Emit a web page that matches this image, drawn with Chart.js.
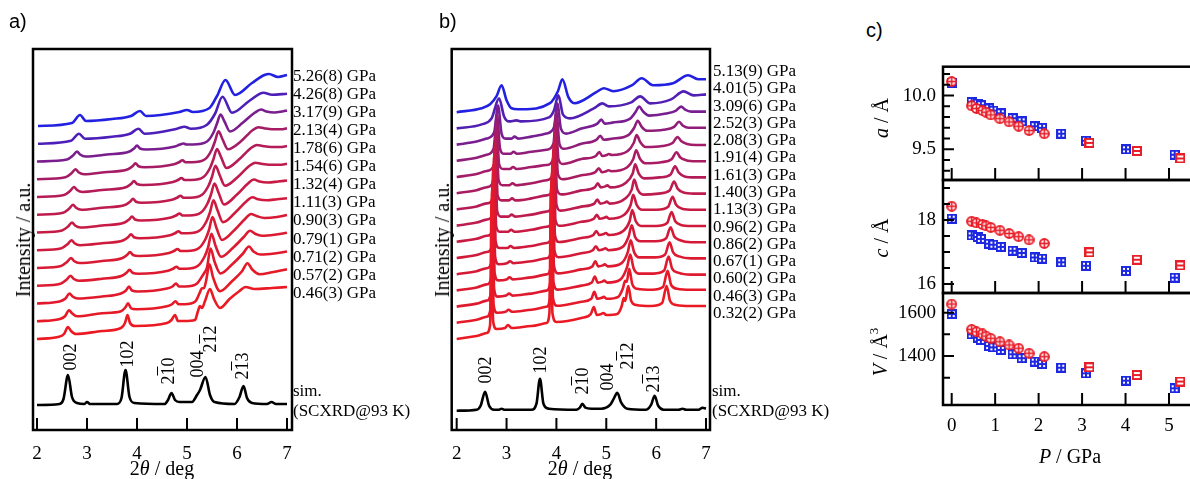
<!DOCTYPE html>
<html>
<head>
<meta charset="utf-8">
<script src="https://cdn.jsdelivr.net/npm/chart.js@4.4.1/dist/chart.umd.min.js"></script>
<style>
  html, body { margin: 0; padding: 0; background: #fff; width: 1190px; height: 479px; overflow: hidden; position: relative; }
  canvas { position: absolute; }
  .t { position: absolute; white-space: nowrap; line-height: 1; font-family: 'Liberation Serif', serif; color: #000; }
  .ob { text-decoration: overline; }
</style>
</head>
<body>
<canvas id="ca" width="400" height="479" style="left:0;top:0"></canvas>
<canvas id="cb" width="330" height="479" style="left:400px;top:0"></canvas>
<canvas id="c1" width="340" height="126" style="left:860px;top:60px"></canvas>
<canvas id="c2" width="340" height="125" style="left:860px;top:174px"></canvas>
<canvas id="c3" width="340" height="168" style="left:860px;top:287px"></canvas>
<script>
// ---- panel a: patterns, bottom (lowest P) to top, [2theta, intensity above own start]
const aPressures = ['0.46(3)', '0.57(2)', '0.71(2)', '0.79(1)', '0.90(3)', '1.11(3)', '1.32(4)',
                    '1.54(6)', '1.78(6)', '2.13(4)', '3.17(9)', '4.26(8)', '5.26(8)'];
const aPatterns = [
  [[2.0,0],[2.42,2],[2.54,5],[2.62,12],[2.68,8],[2.78,5],[3.3,8],[3.68,11],[3.76,16],[3.81,24],[3.86,16],[3.96,13],[4.6,16],[4.69,19],[4.76,24],[4.82,18],[4.95,18],[5.16,19],[5.22,28],[5.26,33],[5.3,31],[5.36,38],[5.46,50],[5.54,40],[5.66,31],[5.85,40],[6.05,48],[6.17,52],[6.35,50],[6.7,51],[7.0,52]],
  [[2.0,0],[2.44,2],[2.56,5],[2.64,11],[2.7,8],[2.8,5],[3.3,8],[3.68,10],[3.77,14],[3.82,18],[3.88,13],[3.98,12],[4.6,15],[4.7,17],[4.77,20],[4.83,17],[4.95,17],[5.17,20],[5.25,28],[5.3,33],[5.34,33],[5.38,40],[5.45,57],[5.52,44],[5.66,30],[5.9,40],[6.1,50],[6.21,58],[6.3,52],[6.45,47],[6.7,49],[7.0,52]],
  [[2.0,0],[2.45,2],[2.57,5],[2.65,10],[2.71,7],[2.82,5],[3.3,7],[3.68,10],[3.78,13],[3.84,17],[3.9,13],[4.02,12],[4.6,15],[4.71,17],[4.78,20],[4.84,17],[4.97,17],[5.2,20],[5.3,27],[5.35,31],[5.4,36],[5.47,55],[5.55,42],[5.67,30],[5.9,39],[6.12,50],[6.24,57],[6.33,52],[6.47,49],[6.75,50],[7.0,52]],
  [[2.0,0],[2.47,2],[2.59,6],[2.67,10],[2.73,7],[2.84,5],[3.3,7],[3.7,10],[3.79,13],[3.85,16],[3.91,13],[4.03,12],[4.62,15],[4.72,17],[4.79,19],[4.85,17],[4.98,17],[5.22,20],[5.35,29],[5.42,38],[5.49,52],[5.57,40],[5.68,29],[5.92,38],[6.14,49],[6.26,55],[6.36,52],[6.5,50],[6.75,51],[7.0,53]],
  [[2.0,0],[2.48,2],[2.6,6],[2.68,10],[2.74,7],[2.85,5],[3.3,7],[3.71,10],[3.8,13],[3.86,16],[3.92,13],[4.04,12],[4.64,15],[4.74,17],[4.81,19],[4.87,17],[5.0,17],[5.24,20],[5.37,29],[5.44,38],[5.51,51],[5.59,40],[5.7,28],[5.95,38],[6.16,49],[6.28,54],[6.39,52],[6.55,50],[6.8,51],[7.0,53]],
  [[2.0,0],[2.49,2],[2.61,6],[2.69,10],[2.75,7],[2.86,5],[3.3,7],[3.73,10],[3.82,13],[3.88,16],[3.94,13],[4.06,12],[4.66,15],[4.76,17],[4.83,19],[4.89,17],[5.02,17],[5.26,20],[5.39,29],[5.46,38],[5.53,50],[5.61,40],[5.72,28],[5.97,38],[6.19,49],[6.31,53],[6.42,51],[6.6,50],[6.8,51],[7.0,52]],
  [[2.0,0],[2.5,2],[2.62,6],[2.70,10],[2.76,7],[2.87,5],[3.3,7],[3.75,10],[3.84,13],[3.90,16],[3.96,13],[4.08,12],[4.68,15],[4.78,17],[4.85,19],[4.91,17],[5.04,17],[5.28,20],[5.41,29],[5.48,38],[5.55,49],[5.63,40],[5.74,28],[6.0,38],[6.22,49],[6.34,53],[6.45,51],[6.62,50],[6.82,51],[7.0,52]],
  [[2.0,0],[2.52,2],[2.64,6],[2.72,10],[2.78,7],[2.89,5],[3.3,7],[3.77,10],[3.86,13],[3.92,16],[3.98,13],[4.1,12],[4.7,15],[4.8,17],[4.87,19],[4.93,17],[5.06,17],[5.3,20],[5.43,29],[5.5,38],[5.57,49],[5.65,40],[5.76,29],[6.02,38],[6.25,49],[6.37,52],[6.48,51],[6.65,50],[6.85,50],[7.0,51]],
  [[2.0,0],[2.54,2],[2.66,6],[2.74,10],[2.8,7],[2.91,5],[3.3,7],[3.79,10],[3.88,13],[3.94,16],[4.0,13],[4.12,12],[4.72,15],[4.82,17],[4.89,19],[4.95,17],[5.08,17],[5.33,20],[5.46,29],[5.53,38],[5.60,48],[5.68,40],[5.79,29],[6.05,38],[6.28,49],[6.40,52],[6.51,51],[6.68,50],[6.86,50],[7.0,51]],
  [[2.0,0],[2.57,2],[2.69,6],[2.77,10],[2.83,7],[2.94,5],[3.35,7],[3.82,10],[3.91,13],[3.97,16],[4.03,13],[4.15,12],[4.74,15],[4.84,17],[4.91,19],[4.97,17],[5.1,17],[5.36,20],[5.49,29],[5.56,38],[5.63,48],[5.71,40],[5.82,30],[6.08,38],[6.31,49],[6.43,52],[6.54,51],[6.7,50],[6.88,50],[7.0,51]],
  [[2.0,0],[2.6,2],[2.72,6],[2.80,10],[2.86,7],[2.97,5],[3.4,7],[3.85,10],[3.94,13],[4.0,16],[4.06,13],[4.18,12],[4.76,15],[4.86,17],[4.93,18],[4.99,17],[5.12,17],[5.4,20],[5.53,29],[5.6,38],[5.67,47],[5.75,40],[5.86,30],[6.12,39],[6.36,49],[6.48,52],[6.59,50],[6.75,49],[6.9,50],[7.0,51]],
  [[2.02,0],[2.68,3],[2.84,10],[2.96,5],[3.5,7],[3.86,10],[4.03,15],[4.15,10],[4.8,15],[4.95,17],[5.08,15],[5.4,19],[5.56,30],[5.71,47],[5.9,31],[6.25,43],[6.53,51],[6.7,49],[7.0,50]],
  [[2.02,0],[2.7,3],[2.86,11],[2.98,5],[3.5,7],[3.88,10],[4.06,15],[4.18,10],[4.85,14],[5.0,16],[5.12,14],[5.45,18],[5.6,30],[5.77,46],[5.96,31],[6.3,43],[6.55,51],[6.64,52],[6.82,49],[7.0,51]]
];
const aSim = [[2.0,0],[2.45,1],[2.53,6],[2.62,30],[2.7,8],[2.8,2],[2.95,1],[3.0,3],[3.06,1],[3.6,1],[3.69,7],[3.77,35],[3.85,8],[3.95,2],[4.55,1],[4.62,5],[4.69,12],[4.76,5],[4.85,3],[4.92,3],[5.1,3],[5.2,10],[5.26,15],[5.37,28],[5.46,10],[5.55,3],[5.95,1],[6.05,8],[6.13,19],[6.2,7],[6.3,2],[6.6,1],[6.69,3],[6.78,1],[7.0,1]];

// ---- panel b
const bPressures = ['0.32(2)', '0.46(3)', '0.60(2)', '0.67(1)', '0.86(2)', '0.96(2)', '1.13(3)', '1.40(3)',
                    '1.61(3)', '1.91(4)', '2.08(3)', '2.52(3)', '3.09(6)', '4.01(5)', '5.13(9)'];
const bPatterns = [
  [[2.0,0],[2.4,3],[2.6,6],[2.67,14],[2.70,140],[2.73,18],[2.8,10],[2.97,11],[3.03,14],[3.1,11],[3.5,13],[3.8,16],[3.86,26],[3.89,150],[3.92,26],[4.0,17],[4.5,21],[4.69,25],[4.75,32],[4.81,24],[4.9,25],[4.94,26],[5.0,24],[5.22,25],[5.31,33],[5.35,41],[5.38,38],[5.44,53],[5.5,38],[5.6,34],[5.9,33],[6.12,36],[6.21,53],[6.28,38],[6.4,34],[6.7,33],[7.0,33]],
  [[2.0,0],[2.4,3],[2.6,6],[2.68,14],[2.71,133],[2.74,18],[2.81,10],[2.98,11],[3.04,13],[3.11,11],[3.5,13],[3.8,16],[3.87,25],[3.90,142],[3.93,25],[4.01,17],[4.5,21],[4.7,24],[4.76,31],[4.82,24],[4.91,25],[4.95,26],[5.01,24],[5.24,26],[5.33,34],[5.38,42],[5.41,41],[5.46,54],[5.52,39],[5.62,34],[5.92,33],[6.14,36],[6.23,52],[6.3,38],[6.42,34],[6.7,33],[7.0,33]],
  [[2.0,0],[2.4,3],[2.6,6],[2.69,14],[2.72,126],[2.75,18],[2.82,10],[2.99,11],[3.05,13],[3.12,11],[3.5,13],[3.8,16],[3.88,25],[3.91,134],[3.94,25],[4.02,17],[4.5,21],[4.71,24],[4.77,30],[4.83,24],[4.92,25],[4.96,26],[5.02,24],[5.28,27],[5.42,40],[5.48,52],[5.55,38],[5.65,33],[5.95,33],[6.16,36],[6.25,50],[6.32,38],[6.44,34],[6.7,32],[7.0,32]],
  [[2.0,0],[2.4,3],[2.6,6],[2.70,14],[2.73,120],[2.76,18],[2.83,10],[3.0,11],[3.06,13],[3.13,11],[3.5,13],[3.8,16],[3.89,25],[3.92,127],[3.95,25],[4.03,17],[4.5,21],[4.72,24],[4.78,29],[4.84,24],[4.93,25],[4.97,26],[5.03,24],[5.3,27],[5.43,38],[5.49,50],[5.56,38],[5.66,33],[5.97,33],[6.18,36],[6.27,48],[6.34,38],[6.46,34],[6.7,32],[7.0,32]],
  [[2.0,0],[2.4,3],[2.6,6],[2.71,14],[2.74,110],[2.77,18],[2.84,10],[3.01,11],[3.07,13],[3.14,11],[3.5,13],[3.8,16],[3.90,24],[3.93,117],[3.96,24],[4.04,17],[4.5,21],[4.73,24],[4.79,28],[4.85,24],[4.94,25],[4.98,26],[5.04,24],[5.32,27],[5.45,38],[5.51,49],[5.58,37],[5.68,33],[5.99,33],[6.2,36],[6.29,47],[6.36,38],[6.48,34],[6.7,32],[7.0,32]],
  [[2.0,0],[2.4,3],[2.6,6],[2.72,14],[2.75,102],[2.78,17],[2.85,10],[3.02,10],[3.08,12],[3.15,10],[3.5,12],[3.8,15],[3.91,23],[3.94,108],[3.97,23],[4.05,16],[4.5,20],[4.74,23],[4.80,27],[4.86,23],[4.95,24],[4.99,25],[5.05,23],[5.34,27],[5.47,37],[5.52,48],[5.59,37],[5.7,32],[6.0,32],[6.22,35],[6.31,46],[6.38,37],[6.5,33],[6.7,32],[7.0,32]],
  [[2.0,0],[2.4,3],[2.6,6],[2.73,13],[2.76,92],[2.79,16],[2.86,10],[3.03,10],[3.09,12],[3.16,10],[3.5,12],[3.8,15],[3.92,22],[3.95,98],[3.98,22],[4.06,16],[4.5,20],[4.75,23],[4.81,27],[4.87,23],[4.96,24],[5.0,25],[5.06,23],[5.36,27],[5.49,37],[5.54,47],[5.61,37],[5.72,32],[6.02,32],[6.24,35],[6.33,45],[6.4,37],[6.52,33],[6.75,32],[7.0,32]],
  [[2.0,0],[2.4,3],[2.6,6],[2.73,12],[2.77,82],[2.81,15],[2.88,9],[3.04,9],[3.1,11],[3.17,9],[3.5,11],[3.8,14],[3.92,21],[3.96,87],[4.0,21],[4.08,15],[4.5,19],[4.76,22],[4.82,26],[4.88,22],[4.97,23],[5.01,24],[5.07,22],[5.38,27],[5.51,36],[5.56,46],[5.63,36],[5.74,31],[6.05,32],[6.27,35],[6.36,44],[6.43,37],[6.55,33],[6.75,32],[7.0,32]],
  [[2.0,0],[2.4,3],[2.6,6],[2.74,12],[2.78,72],[2.82,14],[2.9,9],[3.05,9],[3.11,11],[3.18,9],[3.5,11],[3.8,14],[3.93,20],[3.97,76],[4.01,20],[4.1,15],[4.5,19],[4.77,22],[4.83,26],[4.89,22],[4.98,23],[5.02,24],[5.08,22],[5.4,27],[5.53,36],[5.58,45],[5.65,36],[5.76,31],[6.07,32],[6.29,35],[6.38,43],[6.45,37],[6.57,33],[6.78,32],[7.0,32]],
  [[2.0,0],[2.4,3],[2.6,6],[2.74,12],[2.79,62],[2.84,13],[2.92,8],[3.06,8],[3.12,10],[3.19,8],[3.5,10],[3.8,13],[3.93,19],[3.98,66],[4.03,19],[4.12,14],[4.5,18],[4.78,21],[4.85,25],[4.91,21],[5.0,22],[5.04,23],[5.1,22],[5.42,26],[5.54,34],[5.60,43],[5.67,35],[5.78,30],[6.1,31],[6.31,34],[6.41,41],[6.48,36],[6.6,33],[6.8,32],[7.0,32]],
  [[2.0,0],[2.4,3],[2.6,6],[2.75,12],[2.80,54],[2.85,13],[2.93,8],[3.07,8],[3.13,10],[3.2,8],[3.5,10],[3.8,12],[3.94,18],[3.99,57],[4.04,18],[4.13,13],[4.5,18],[4.79,21],[4.86,25],[4.92,21],[5.01,22],[5.05,23],[5.11,22],[5.43,26],[5.55,34],[5.61,42],[5.68,35],[5.79,30],[6.12,31],[6.33,34],[6.43,40],[6.5,36],[6.62,33],[6.8,32],[7.0,32]],
  [[2.0,0],[2.4,3],[2.6,6],[2.74,12],[2.81,46],[2.87,12],[2.95,7],[3.08,7],[3.14,9],[3.21,7],[3.5,9],[3.8,11],[3.94,17],[4.00,49],[4.06,17],[4.15,12],[4.5,17],[4.8,21],[4.88,25],[4.95,21],[5.1,22],[5.45,26],[5.56,33],[5.63,40],[5.71,34],[5.82,30],[6.15,31],[6.36,34],[6.46,39],[6.54,35],[6.65,33],[6.85,33],[7.0,33]],
  [[2.0,0],[2.4,3],[2.6,6],[2.75,12],[2.83,39],[2.9,11],[2.98,6],[3.1,6],[3.16,8],[3.23,6],[3.5,8],[3.8,11],[3.95,17],[4.02,41],[4.09,16],[4.2,11],[4.5,16],[4.82,21],[4.90,25],[4.97,21],[5.12,22],[5.48,26],[5.58,32],[5.66,38],[5.74,33],[5.86,29],[6.2,31],[6.4,34],[6.50,38],[6.58,35],[6.7,33],[6.85,33],[7.0,33]],
  [[2.0,0],[2.5,4],[2.7,10],[2.85,30],[2.95,12],[3.05,7],[3.2,8],[3.3,7],[3.85,11],[3.95,18],[4.04,33],[4.13,14],[4.27,10],[4.75,20],[4.92,25],[5.05,22],[5.5,26],[5.68,32],[5.88,25],[6.3,29],[6.55,37],[6.75,33],[7.0,34]],
  [[2.0,0],[2.5,4],[2.67,8],[2.8,16],[2.9,27],[3.0,12],[3.1,4],[3.23,3],[3.32,3],[3.87,9],[4.03,21],[4.12,33],[4.24,15],[4.36,9],[4.8,20],[4.95,24],[5.14,21],[5.52,27],[5.71,34],[5.94,27],[6.34,29],[6.64,37],[6.84,33],[7.0,33]]
];
const bSim = [[2.0,0],[2.4,1],[2.48,5],[2.57,19],[2.65,5],[2.75,1],[2.85,1],[2.9,2],[2.95,1],[3.5,1],[3.6,7],[3.67,32],[3.74,7],[3.85,2],[4.4,1],[4.47,3],[4.52,7],[4.58,3],[4.7,2],[4.9,2],[5.08,6],[5.15,12],[5.22,18],[5.3,8],[5.42,2],[5.8,1],[5.9,6],[5.97,15],[6.04,5],[6.15,1],[6.45,1],[6.53,2],[6.6,1],[6.85,1],[6.93,3],[7.0,2]];

const hklLabels = ['002', '102', '2<span class="ob">1</span>0', '004', '2<span class="ob">1</span>2', '2<span class="ob">1</span>3'];

// ---- panel c: lattice parameters
const blueP = [0, 0.46, 0.60, 0.67, 0.86, 0.96, 1.13, 1.40, 1.61, 1.91, 2.08, 2.52, 3.09, 4.01, 5.13];
const blueA = [10.12, 9.94, 9.925, 9.91, 9.88, 9.86, 9.835, 9.79, 9.76, 9.715, 9.70, 9.645, 9.58, 9.50, 9.45];
const blueC = [18.04, 17.52, 17.47, 17.41, 17.26, 17.23, 17.16, 17.04, 16.97, 16.83, 16.79, 16.68, 16.57, 16.41, 16.20];
const blueV = [1594, 1500, 1485, 1474, 1446, 1440, 1428, 1408, 1390, 1374, 1363, 1346, 1320, 1286, 1251];
const redP = [0, 0.46, 0.57, 0.71, 0.79, 0.90, 1.11, 1.32, 1.54, 1.78, 2.13, 3.17, 4.26, 5.26];
const redA = [10.13, 9.905, 9.88, 9.86, 9.845, 9.82, 9.785, 9.755, 9.715, 9.675, 9.645, 9.56, 9.485, 9.415];
const redC = [18.43, 17.96, 17.91, 17.86, 17.82, 17.77, 17.68, 17.58, 17.48, 17.38, 17.27, 16.99, 16.76, 16.58];
const redV = [1640, 1523, 1512, 1502, 1492, 1482, 1466, 1451, 1436, 1413, 1397, 1348, 1312, 1282];

Chart.defaults.font.family = "'Liberation Serif', serif";
Chart.defaults.color = '#000';
Chart.defaults.animation = false;

function isMajor(v, m) { return Math.abs(v / m - Math.round(v / m)) < 1e-6; }

// frame + inward tick marks
const framePlugin = {
  id: 'frame',
  afterDatasetsDraw(chart, args, o) {
    const { ctx, chartArea: a, scales } = chart;
    ctx.save();
    ctx.strokeStyle = '#000';
    ctx.lineWidth = 2;
    ctx.beginPath();
    scales.x.ticks.forEach(t => {
      const px = scales.x.getPixelForValue(t.value);
      ctx.moveTo(px, a.bottom); ctx.lineTo(px, a.bottom - 12);
    });
    if (o.yMajor) {
      scales.y.ticks.forEach(t => {
        const py = scales.y.getPixelForValue(t.value);
        const len = isMajor(t.value, o.yMajor) ? 11 : 7;
        ctx.moveTo(a.left, py); ctx.lineTo(a.left + len, py);
      });
    }
    ctx.stroke();
    ctx.lineWidth = 2.5;
    ctx.strokeRect(a.left, a.top, a.right - a.left, a.bottom - a.top);
    ctx.restore();
  }
};

function pColor(p, lo, hi) {
  const t = (p - lo) / (hi - lo);
  return 'rgb(' + Math.round(235 - 200 * t) + ',' + Math.round(25 + 8 * t) + ',' + Math.round(35 + 190 * t) + ')';
}

function xAxisBottom(min, max, pad) {
  return {
    type: 'linear', min: min, max: max, position: 'bottom',
    grid: { display: false, drawTicks: false }, border: { display: false },
    ticks: { stepSize: 1, includeBounds: false, autoSkip: false, maxRotation: 0, font: { size: 19 }, padding: pad },
    afterFit(s) { s.height = 40; s.paddingLeft = 0; s.paddingRight = 0; }
  };
}

function xrdChart(id, patterns, pressures, sim, off0, step, simOff, xmin, xmax, padL, padR) {
  const ps = pressures.map(parseFloat);
  const lo = ps[0], hi = ps[ps.length - 1];
  const ds = [];
  // lowest pressure first so it is drawn in front
  for (let i = 0; i < patterns.length; i++) {
    ds.push({
      data: patterns[i].map(p => ({ x: p[0], y: p[1] + off0 + step * i })),
      borderColor: pColor(ps[i], lo, hi), borderWidth: 2.6,
      showLine: true, pointRadius: 0, cubicInterpolationMode: 'monotone'
    });
  }
  ds.push({
    data: sim.map(p => ({ x: p[0], y: p[1] + simOff })),
    borderColor: '#000', borderWidth: 2.6, showLine: true, pointRadius: 0, cubicInterpolationMode: 'monotone'
  });
  return new Chart(document.getElementById(id), {
    type: 'scatter',
    data: { datasets: ds },
    options: {
      responsive: false,
      layout: { padding: { left: padL, right: padR, top: 49, bottom: 9 } },
      plugins: { legend: { display: false }, tooltip: { enabled: false }, frame: {} },
      scales: {
        x: xAxisBottom(xmin, xmax, 13),
        y: { display: false, min: 0, max: 381 }
      }
    },
    plugins: [framePlugin]
  });
}

xrdChart('ca', aPatterns, aPressures, aSim, 91, 17.75, 25, 1.92, 7.1, 33, 108);
xrdChart('cb', bPatterns, bPressures, bSim, 91, 16.2, 19.3, 1.9, 7.08, 51.7, 20);

// markers for panel c
function mk(kind, color) {
  const c = document.createElement('canvas');
  c.width = c.height = (kind === 'circ' ? 11 : 10);
  const g = c.getContext('2d');
  g.fillStyle = color;
  if (kind === 'grid') {
    g.fillRect(0, 0, 10, 10);
    g.fillStyle = '#fff';
    [[2, 2], [6, 2], [2, 6], [6, 6]].forEach(p => g.fillRect(p[0], p[1], 2, 2));
  } else if (kind === 'bar') {
    g.fillRect(0, 0, 10, 10);
    g.fillStyle = '#fff';
    g.fillRect(2, 2, 6, 2); g.fillRect(2, 6, 6, 2);
  } else {
    g.beginPath(); g.arc(5.5, 5.5, 5.4, 0, Math.PI * 2); g.fill();
    g.fillStyle = '#fff';
    g.beginPath(); g.arc(5.5, 5.5, 3.5, 0, Math.PI * 2); g.fill();
    g.fillStyle = color;
    g.fillRect(4.7, 1, 1.6, 9); g.fillRect(1, 4.7, 9, 1.6);
  }
  return c;
}
const blueSq = mk('grid', 'rgb(30,40,225)');
const redCirc = mk('circ', 'rgb(232,30,40)');
const redSq = mk('bar', 'rgb(232,30,40)');

function latChart(id, redVals, blueVals, yMin, yMax, yStep, yMajor, digits, tickMin, padTop, padBottom, showX) {
  const x = showX ? xAxisBottom(-0.2, 5.552, 10) : {
    type: 'linear', min: -0.2, max: 5.552, position: 'bottom',
    grid: { display: false, drawTicks: false }, border: { display: false },
    ticks: { display: false, stepSize: 1, includeBounds: false },
    afterFit(s) { s.height = 0; s.paddingLeft = 0; s.paddingRight = 0; }
  };
  return new Chart(document.getElementById(id), {
    type: 'scatter',
    data: {
      datasets: [
        { data: redP.map((p, i) => ({ x: p, y: redVals[i] })),
          pointStyle: ctx => (redP[ctx.dataIndex] > 3 ? redSq : redCirc), pointRadius: 5 },
        { data: blueP.map((p, i) => ({ x: p, y: blueVals[i] })), pointStyle: blueSq, pointRadius: 5 }
      ]
    },
    options: {
      responsive: false,
      layout: { padding: { left: 0, right: 7, top: padTop, bottom: padBottom } },
      plugins: { legend: { display: false }, tooltip: { enabled: false }, frame: { yMajor: yMajor } },
      scales: {
        x: x,
        y: {
          min: yMin, max: yMax, position: 'left',
          grid: { display: false, drawTicks: false }, border: { display: false },
          ticks: { stepSize: yStep, includeBounds: false, autoSkip: false, font: { size: 19 }, padding: 7,
                   callback: v => (isMajor(v, yMajor) ? v.toFixed(digits) : '') },
          afterBuildTicks(s) { s.ticks = s.ticks.filter(t => t.value >= tickMin - 1e-6); },
          afterFit(s) { s.width = 83; s.paddingTop = 0; s.paddingBottom = 0; }
        }
      }
    },
    plugins: [framePlugin]
  });
}

latChart('c1', redA, blueA, 9.215, 10.268, 0.1, 0.5, 1, 9.2, 6.7, 6, false);
latChart('c2', redC, blueC, 15.72, 19.25, 0.5, 2, 0, 15.7, 6, 6, false);
latChart('c3', redV, blueV, 1173.7, 1691, 100, 200, 0, 1300, 6, 10, true);

// ---- text
function put(html, x, y, o) {
  o = o || {};
  const d = document.createElement('div');
  d.className = 't';
  d.innerHTML = html;
  d.style.left = x + 'px';
  d.style.top = y + 'px';
  d.style.fontSize = (o.size || 17) + 'px';
  if (o.sans) d.style.fontFamily = "'Liberation Sans', Arial, sans-serif";
  let tr = o.center ? 'translate(-50%,-50%)' : 'translate(0,-50%)';
  if (o.rot) tr += ' rotate(' + o.rot + 'deg)';
  d.style.transform = tr;
  document.body.appendChild(d);
}

put('a)', 9, 21, { size: 20, sans: true });
put('b)', 439, 21, { size: 20, sans: true });
put('c)', 866, 30, { size: 20, sans: true });

aPressures.forEach((p, k) => put(p + ' GPa', 293, 291.7 - k * 18.06));
bPressures.forEach((p, k) => put(p + ' GPa', 713, 312 - k * 17.29));

put('sim.', 293, 390); put('(SCXRD@93 K)', 293, 410);
put('sim.', 712, 390); put('(SCXRD@93 K)', 712, 410);

const hklPosA = [[70, 357], [127, 354], [168, 371], [197, 364], [210, 339], [242, 366]];
const hklPosB = [[485, 370], [540, 360], [582, 381], [607, 377], [627, 356], [653, 379]];
hklLabels.forEach((h, i) => {
  put(h, hklPosA[i][0], hklPosA[i][1], { size: 18, center: true, rot: -90 });
  put(h, hklPosB[i][0], hklPosB[i][1], { size: 18, center: true, rot: -90 });
});

put('Intensity / a.u.', 23, 240, { size: 20, center: true, rot: -90 });
put('Intensity / a.u.', 442, 240, { size: 20, center: true, rot: -90 });
put('2<i>θ</i> / deg', 162, 468, { size: 20, center: true });
put('2<i>θ</i> / deg', 580, 468, { size: 20, center: true });
put('<i>P</i> / GPa', 1070, 456, { size: 20, center: true });
put('<i>a</i> / Å', 881, 118, { size: 20, center: true, rot: -90 });
put('<i>c</i> / Å', 881, 238, { size: 20, center: true, rot: -90 });
put('<i>V</i> / Å<span style="font-size:13px;vertical-align:9px">3</span>', 878, 352, { size: 20, center: true, rot: -90 });
</script>
</body>
</html>
